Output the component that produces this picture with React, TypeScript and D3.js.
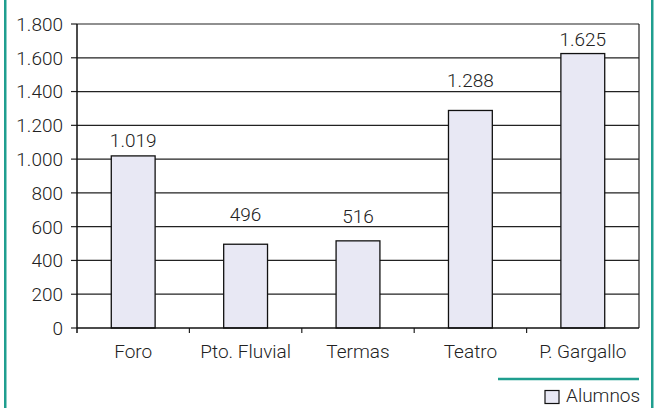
import React from "react";
import * as d3 from "d3";

const categories = ["Foro", "Pto. Fluvial", "Termas", "Teatro", "P. Gargallo"];
const values = [1019, 496, 516, 1288, 1625];
const yTicks = [0, 200, 400, 600, 800, 1000, 1200, 1400, 1600, 1800];
const seriesName = "Alumnos";

const W = 654, H = 408;
const left = 77, right = 639, top = 24, bottom = 328;
const teal = "#1f9e8f";
const fill = "#e8e8f4";
const font = "Roboto, sans-serif";
const fs = 19;
// vertical gap (px) between each value label's baseline and its bar top, as placed in the original
const labelLift = [8.5, 23, 18, 23.5, 7.6];

const fmt = (v: number) => {
  const s = String(v);
  return s.length > 3 ? s.slice(0, s.length - 3) + "." + s.slice(-3) : s;
};

export default function App() {
  const x = d3.scaleBand<string>().domain(categories).range([left, right]).paddingInner(0).paddingOuter(0);
  const y = d3.scaleLinear().domain([0, 1800]).range([bottom, top]);
  const bw = x.bandwidth() * 0.39;
  return (
    <svg width={W} height={H} style={{ position: "absolute", left: 0, top: 0 }} fontFamily={font}>
      <rect x={0} y={0} width={W} height={H} fill="#fff" />
      <rect x={4} y={-2} width={2.5} height={H + 4} fill={teal} />
      <rect x={651} y={-2} width={2.5} height={H + 4} fill={teal} />
      {yTicks.map((t) => (
        <g key={t}>
          {t > 0 && <line x1={left} x2={right} y1={y(t)} y2={y(t)} stroke="#222" strokeWidth={1.2} />}
          <line x1={left - 6} x2={left} y1={y(t)} y2={y(t)} stroke="#222" strokeWidth={1.2} />
          <text x={left - 14} y={y(t)} dy="0.36em" textAnchor="end" fontSize={fs} fill="#222" fontWeight={300}>
            {fmt(t)}
          </text>
        </g>
      ))}
      <line x1={right} x2={right} y1={top} y2={bottom} stroke="#222" strokeWidth={1.2} />
      {categories.map((c, i) => {
        const cx = (x(c) as number) + x.bandwidth() / 2;
        return (
          <g key={c}>
            <rect x={cx - bw / 2} y={y(values[i])} width={bw} height={bottom - y(values[i])} fill={fill} stroke="#111" strokeWidth={1.3} />
            <text x={cx} y={y(values[i]) - labelLift[i]} textAnchor="middle" fontSize={fs} fill="#222" fontWeight={300}>
              {fmt(values[i])}
            </text>
            <text x={cx} y={bottom + 30} textAnchor="middle" fontSize={fs} fill="#222" fontWeight={300}>
              {c}
            </text>
          </g>
        );
      })}
      {categories.slice(1).map((c) => (
        <line key={c} x1={x(c) as number} x2={x(c) as number} y1={bottom} y2={bottom + 5} stroke="#222" strokeWidth={1.2} />
      ))}
      <line x1={left} x2={left} y1={top} y2={bottom + 5} stroke="#111" strokeWidth={1.5} />
      <line x1={left} x2={right} y1={bottom} y2={bottom} stroke="#111" strokeWidth={1.6} />
      <line x1={498} x2={639} y1={379} y2={379} stroke={teal} strokeWidth={2.5} />
      <rect x={545} y={390.5} width={14} height={13} fill={fill} stroke="#111" strokeWidth={1.2} />
      <text x={566} y={402} fontSize={fs} fill="#222" fontWeight={300}>{seriesName}</text>
    </svg>
  );
}
